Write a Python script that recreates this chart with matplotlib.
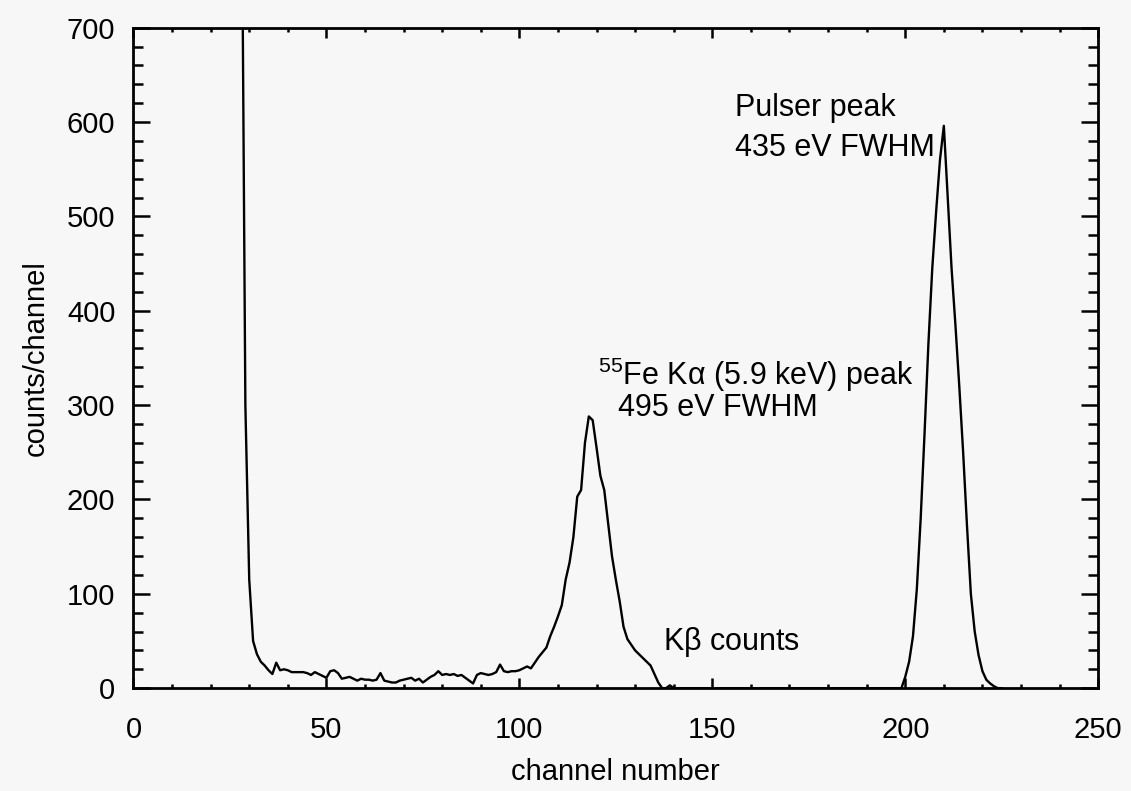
"""Pulse-height spectrum: 55Fe source plus pulser peak."""

import matplotlib
matplotlib.use("Agg")
import matplotlib.pyplot as plt
import numpy as np
from matplotlib.ticker import MultipleLocator

plt.rcParams["font.family"] = ["Liberation Sans", "DejaVu Sans"]
plt.rcParams["mathtext.fontset"] = "custom"
plt.rcParams["mathtext.rm"] = "Liberation Sans"
plt.rcParams["mathtext.it"] = "Liberation Sans"

# low-energy noise edge and flat background, channels 28..99
NOISE_START = 28
noise_counts = [
    900, 300, 115, 50, 36, 28, 24, 19, 15, 27,
    19, 20, 19, 17, 17, 17, 17, 16, 14, 17,
    15, 13, 11, 18, 19, 16, 10, 11, 12, 10,
    8, 10, 9, 9, 8, 9, 16, 8, 7, 6,
    6, 8, 9, 10, 11, 8, 10, 6, 9, 12,
    14, 18, 14, 15, 14, 15, 13, 14, 11, 8,
    5, 14, 16, 15, 14, 15, 17, 25, 18, 17,
    18, 18,
]

# 55Fe K-alpha peak and K-beta tail, channels 100..140
KA_START = 100
ka_counts = [
    19, 21, 23, 21, 27, 33, 38, 43, 55, 65,
    76, 88, 115, 133, 160, 203, 210, 260, 288, 284,
    255, 225, 210, 175, 140, 115, 92, 65, 52, 46,
    40, 36, 32, 28, 24, 15, 6, 0, 0, 3,
    0,
]

# pulser peak, channels 199..224
PULSER_START = 199
pulser_counts = [
    0, 12, 28, 55, 105, 180, 270, 365, 445, 505,
    560, 596, 520, 445, 385, 320, 250, 172, 100, 60,
    35, 18, 9, 5, 2, 0,
]

channels = np.arange(NOISE_START, 226)
counts = np.zeros(len(channels))
for start, values in [(NOISE_START, noise_counts), (KA_START, ka_counts),
                      (PULSER_START, pulser_counts)]:
    counts[start - NOISE_START:start - NOISE_START + len(values)] = values

fig = plt.figure(figsize=(11.31, 7.91), dpi=100)
fig.patch.set_facecolor("#f7f7f7")
ax = fig.add_axes([0.118, 0.13, 0.853, 0.835])
ax.set_facecolor("#f7f7f7")

ax.plot(channels, counts, color="black", linewidth=1.7)

ax.set_xlim(0, 250)
ax.set_ylim(0, 700)
ax.xaxis.set_major_locator(MultipleLocator(50))
ax.xaxis.set_minor_locator(MultipleLocator(10))
ax.yaxis.set_major_locator(MultipleLocator(100))
ax.yaxis.set_minor_locator(MultipleLocator(20))

for side in ax.spines.values():
    side.set_linewidth(2.0)

ax.tick_params(axis="both", which="both", direction="in", top=True, right=True,
               labelsize=21, width=1.8, colors="black")
ax.tick_params(axis="y", which="major", length=12, pad=13)
ax.tick_params(axis="y", which="minor", length=7)
ax.tick_params(axis="x", which="major", length=7, pad=20)
ax.tick_params(axis="x", which="minor", length=3)

ax.set_xlabel("channel number", fontsize=21, labelpad=10)
ax.set_ylabel("counts/channel", fontsize=21, labelpad=12)

ax.text(156, 615, "Pulser peak", fontsize=22, va="center")
ax.text(156, 573, "435 eV FWHM", fontsize=22, va="center")
ax.text(120.3, 332, r"$^{55}$Fe K$\alpha$ (5.9 keV) peak", fontsize=22, va="center")
ax.text(125.5, 297, "495 eV FWHM", fontsize=22, va="center")
ax.text(137.3, 49, r"K$\beta$ counts", fontsize=22, va="center")

fig.savefig("out.png", dpi=100, facecolor=fig.get_facecolor())
